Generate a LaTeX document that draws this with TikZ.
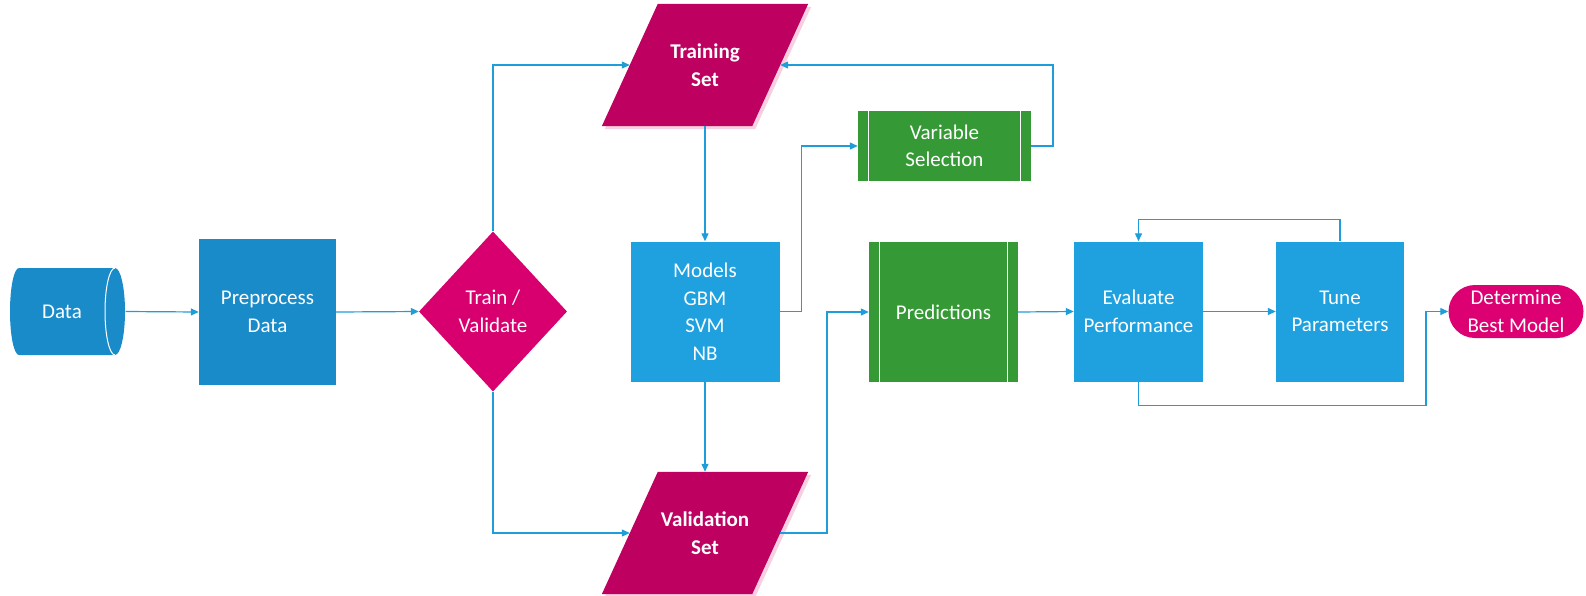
\documentclass[tikz,border=0pt]{standalone}
\usepackage{fontspec}
\setmainfont{Carlito}
\usetikzlibrary{shapes.geometric,arrows.meta,calc}
\pgfdeclarelayer{background}
\pgfsetlayers{background,main}
\definecolor{darkblue}{HTML}{1A8BC9}
\definecolor{lightblue}{HTML}{1FA1E0}
\definecolor{setred}{HTML}{BE0060}
\definecolor{decpink}{HTML}{D8006F}
\definecolor{endpink}{HTML}{DC0072}
\definecolor{procgreen}{HTML}{359A35}
\definecolor{linkblue}{HTML}{1E9DDA}
\definecolor{shadowpink}{HTML}{F6CFE0}
\begin{document}
\begin{tikzpicture}[x=1pt,y=-1pt,
  basebox/.style={inner sep=0pt, align=center, text=white,
    font=\fontsize{21}{27.5}\selectfont},
  blockbox/.style={basebox, fill=#1, minimum height=140pt},
  setnode/.style={basebox, minimum width=150pt, minimum height=122pt,
    font=\fontsize{21}{27.5}\selectfont\bfseries},
  stripebox/.style={basebox, fill=procgreen},
  link/.style={draw=linkblue, line width=1.2pt,
    -{Triangle[length=8pt,width=7pt]}},
  plainlink/.style={draw=linkblue, line width=1.2pt}
]
\useasboundingbox (0,0) rectangle (1586,595);

% ---- nodes ----
\node[basebox, minimum width=117pt, minimum height=87pt] (data) at (67,311.5) {Data\hspace*{10pt}};
\node[blockbox=darkblue, minimum width=137pt, minimum height=146pt] (pre) at (267.5,312) {Preprocess\\Data};
\node[basebox, shape=diamond, fill=decpink, minimum width=148pt, minimum height=160pt] (split) at (493,311.5) {Train /\\Validate};
\node[setnode] (train) at (705,65) {Training\\Set};
\node[setnode] (val) at (705,533) {Validation\\Set};
\node[blockbox=lightblue, minimum width=149pt] (models) at (705,311.5) {Models\\GBM\\SVM\\NB};
\node[stripebox, minimum width=173pt, minimum height=70pt] (vars) at (944.5,146) {Variable\\Selection};
\node[stripebox, minimum width=149pt, minimum height=140pt] (pred) at (943.5,312) {Predictions};
\node[blockbox=lightblue, minimum width=129pt] (eval) at (1138.5,311.5) {Evaluate\\Performance};
\node[blockbox=lightblue, minimum width=128pt] (tune) at (1340,311.5) {Tune\\Parameters};
\node[basebox, fill=endpink, minimum width=135pt, minimum height=53pt, rounded corners=26.5pt] (best) at (1516,311.5) {Determine\\Best Model};

% ---- shapes drawn behind the text ----
\begin{pgfonlayer}{background}
  % horizontal cylinder for the data store
  \fill[darkblue] (19,268) -- (115,268)
    .. controls (120.5,268) and (125,287.5) .. (125,311.5)
    .. controls (125,335.5) and (120.5,355) .. (115,355)
    -- (19,355)
    .. controls (14,355) and (10,335.5) .. (10,311.5)
    .. controls (10,287.5) and (14,268) .. (19,268) -- cycle;
  % slanted data sets with a soft shadow
  \foreach \n in {train,val} {
    \fill[shadowpink] ($(\n.north west)+(31,3)$) -- ($(\n.north east)+(31,3)$)
      -- ($(\n.south east)+(-25,3)$) -- ($(\n.south west)+(-25,3)$) -- cycle;
    \fill[setred] ($(\n.north west)+(28,0)$) -- ($(\n.north east)+(28,0)$)
      -- ($(\n.south east)+(-28,0)$) -- ($(\n.south west)+(-28,0)$) -- cycle;
  }
\end{pgfonlayer}

% front face of the cylinder
\draw[white, line width=1pt] (115,268)
  .. controls (109.5,268) and (105,287.5) .. (105,311.5)
  .. controls (105,335.5) and (109.5,355) .. (115,355);

% side stripes of the predefined-process boxes
\foreach \n in {vars,pred} {
  \draw[white, line width=1.2pt] ($(\n.north west)+(11,0)$) -- ($(\n.south west)+(11,0)$);
  \draw[white, line width=1.2pt] ($(\n.north east)+(-11,0)$) -- ($(\n.south east)+(-11,0)$);
}

% ---- connectors ----
\draw[link] (data.east) -- (pre.west);
\draw[link] (pre.east) -- (split.west);
\draw[link] (split.north) |- (train.west);
\draw[link] (split.south) |- (val.west);
\draw[link] (train.south) -- (models.north);
\draw[link] (models.south) -- (val.north);
\draw[link] (models.east) -- ++(22,0) |- (vars.west);
\coordinate (varsturn) at (1053,146);
\draw[link] (vars.east) -- (varsturn) |- (train.east);
\coordinate (valturn) at (827,533);
\draw[link] (val.east) -- (valturn) |- (pred.west);
\draw[link] (pred.east) -- (eval.west);
\draw[link] (eval.east) -- (tune.west);
\draw[link] (tune.north) -- ++(0,-22) -| (eval.north);
\coordinate (bestturn) at (1426,311.5);
\draw[link] (eval.south) -- ++(0,24) -| (bestturn) -- (best.west);
\end{tikzpicture}
\end{document}
